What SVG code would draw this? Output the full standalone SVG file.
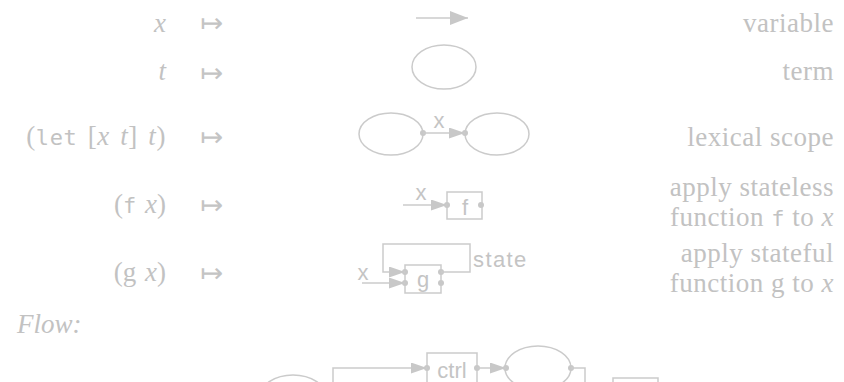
<svg xmlns="http://www.w3.org/2000/svg" width="844" height="382" viewBox="0 0 844 382">
  <style>
    .serif { font-family: "Liberation Serif", "DejaVu Serif", serif; font-size: 27px; fill: #c2c2c2; }
    .desc { font-family: "Liberation Serif", "DejaVu Serif", serif; font-size: 27px; fill: #c2c2c2; letter-spacing: 0.5px; text-anchor: end; }
    .it { font-style: italic; }
    .mono { font-family: "DejaVu Sans Mono", "Liberation Mono", monospace; font-size: 22px; font-style: normal; }
    .mapsto { font-family: "DejaVu Sans", sans-serif; font-size: 26px; fill: #c4c4c4; }
    .lbl { font-family: "Liberation Sans", Arial, sans-serif; font-size: 22px; fill: #c4c4c4; }
    .shape { fill: none; stroke: #cbcbcb; stroke-width: 1.5; }
    .wire { fill: none; stroke: #cbcbcb; stroke-width: 1.5; marker-end: url(#head); }
    .port { fill: #c8c8c8; }
  </style>
  <defs>
    <marker id="head" markerUnits="userSpaceOnUse" markerWidth="16" markerHeight="11" refX="16" refY="5.5" orient="auto">
      <path d="M0,0 L16,5.5 L0,11 z" fill="#c8c8c8"/>
    </marker>
    <marker id="headLarge" markerUnits="userSpaceOnUse" markerWidth="18" markerHeight="14" refX="18" refY="7" orient="auto">
      <path d="M0,0 L18,7 L0,14 z" fill="#c8c8c8"/>
    </marker>
  </defs>

  <!-- left column: source forms -->
  <g id="forms">
    <text class="serif it" x="166" y="32" text-anchor="end">x</text>
    <text class="serif it" x="166" y="80" text-anchor="end">t</text>
    <text class="serif" x="166" y="145" text-anchor="end" word-spacing="3" letter-spacing="0.6">(<tspan class="mono">let</tspan> [<tspan class="it">x t</tspan>] <tspan class="it">t</tspan>)</text>
    <text class="serif" x="166" y="213" text-anchor="end" word-spacing="2">(<tspan class="mono">f</tspan> <tspan class="it">x</tspan>)</text>
    <text class="serif" x="166" y="281" text-anchor="end" word-spacing="2">(g <tspan class="it">x</tspan>)</text>
  </g>

  <g id="maps-to">
    <text class="mapsto" x="200" y="32" textLength="23" lengthAdjust="spacingAndGlyphs">↦</text>
    <text class="mapsto" x="200" y="82" textLength="23" lengthAdjust="spacingAndGlyphs">↦</text>
    <text class="mapsto" x="200" y="146" textLength="23" lengthAdjust="spacingAndGlyphs">↦</text>
    <text class="mapsto" x="200" y="214" textLength="23" lengthAdjust="spacingAndGlyphs">↦</text>
    <text class="mapsto" x="200" y="282" textLength="23" lengthAdjust="spacingAndGlyphs">↦</text>
  </g>

  <!-- right column: descriptions -->
  <g id="descriptions">
    <text class="desc" x="834" y="32">variable</text>
    <text class="desc" x="834" y="80">term</text>
    <text class="desc" x="834" y="146">lexical scope</text>
    <text class="desc" x="834" y="196">apply stateless</text>
    <text class="desc" x="834" y="226">function <tspan class="mono">f</tspan> to <tspan class="it">x</tspan></text>
    <text class="desc" x="834" y="262">apply stateful</text>
    <text class="desc" x="834" y="292">function g to <tspan class="it">x</tspan></text>
  </g>

  <text class="serif it" x="17" y="333">Flow:</text>

  <!-- nodes -->
  <g id="term">
    <ellipse class="shape" cx="444" cy="67" rx="32" ry="22"/>
  </g>

  <g id="scope-outer">
    <ellipse class="shape" cx="391" cy="134" rx="32" ry="21"/>
    <circle class="port" cx="423" cy="133" r="3"/>
  </g>
  <g id="scope-inner">
    <ellipse class="shape" cx="497" cy="134" rx="32" ry="21"/>
    <circle class="port" cx="465" cy="133" r="3"/>
  </g>

  <g id="fn-f">
    <rect class="shape" x="447" y="192" width="35" height="27"/>
    <text class="lbl" x="465" y="215" text-anchor="middle">f</text>
    <circle class="port" cx="447" cy="205" r="3"/>
    <circle class="port" cx="481" cy="205" r="3"/>
  </g>

  <g id="fn-g">
    <rect class="shape" x="405" y="265" width="36" height="28"/>
    <text class="lbl" x="423" y="287" text-anchor="middle">g</text>
    <circle class="port" cx="405" cy="272" r="3"/>
    <circle class="port" cx="405" cy="283" r="3"/>
    <circle class="port" cx="441" cy="272" r="3"/>
    <circle class="port" cx="441" cy="283" r="3"/>
  </g>

  <g id="flow-source">
    <ellipse class="shape" cx="293" cy="397" rx="33" ry="22"/>
  </g>
  <g id="flow-ctrl">
    <rect class="shape" x="427" y="353" width="50" height="40"/>
    <text class="lbl" x="452" y="378" text-anchor="middle">ctrl</text>
    <circle class="port" cx="427" cy="368" r="3"/>
    <circle class="port" cx="477" cy="368" r="3"/>
  </g>
  <g id="flow-body">
    <ellipse class="shape" cx="538" cy="368" rx="33" ry="22"/>
    <circle class="port" cx="506" cy="368" r="3"/>
    <circle class="port" cx="571" cy="368" r="3"/>
  </g>
  <g id="flow-sink">
    <rect class="shape" x="613" y="378" width="45" height="30"/>
  </g>

  <!-- connectors -->
  <g id="connectors">
    <path class="shape" d="M416,18 H468" marker-end="url(#headLarge)"/>
    <path class="wire" d="M423,133 H465"/>
    <text class="lbl" x="439" y="128" text-anchor="middle">x</text>
    <path class="wire" d="M403,205 H447"/>
    <text class="lbl" x="421" y="200" text-anchor="middle">x</text>
    <path class="wire" d="M441,272 H470 V244 H383 V272 H405"/>
    <text class="lbl" x="473" y="267" letter-spacing="1.4">state</text>
    <path class="wire" d="M362,283 H405"/>
    <text class="lbl" x="363" y="280" text-anchor="middle">x</text>
    <path class="wire" d="M333,390 V368 H427"/>
    <path class="wire" d="M477,368 H506"/>
    <path class="shape" d="M571,368 H585 V390"/>
  </g>
</svg>
